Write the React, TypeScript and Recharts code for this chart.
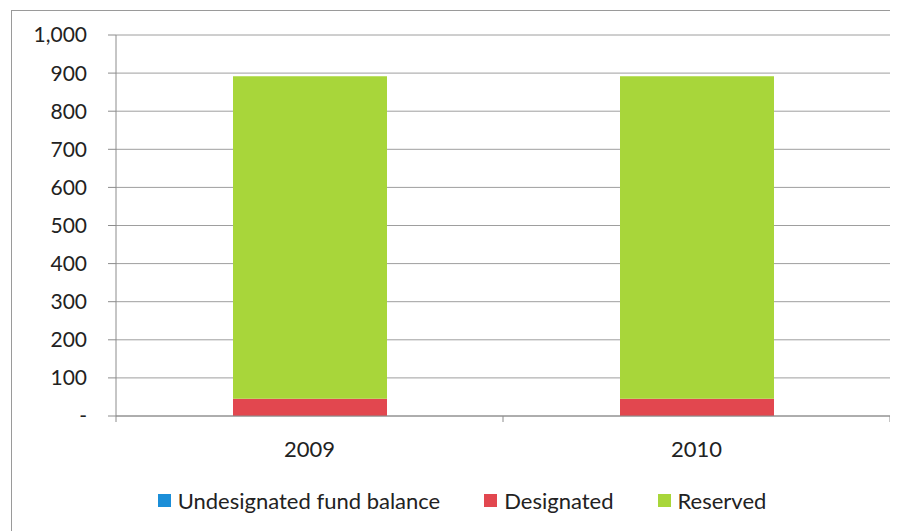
import React from 'react';
import { BarChart, Bar, XAxis, YAxis, CartesianGrid, Legend } from 'recharts';

const years = ['2009', '2010'];
const undesignated = [0, 0];
const designated = [45, 45];
const reserved = [847, 847];
const yTicks = [0, 100, 200, 300, 400, 500, 600, 700, 800, 900, 1000];

const seriesKeys = ['undesignated', 'designated', 'reserved'];
const seriesNames = ['Undesignated fund balance', 'Designated', 'Reserved'];
const seriesColors = ['#1b8ed8', '#e2474f', '#a8d63a'];

const data = years.map((year, i) => ({
  year,
  undesignated: undesignated[i],
  designated: designated[i],
  reserved: reserved[i],
}));

const FONT = 'Lato, "Open Sans", sans-serif';
const CHART_W = 890;
const CHART_H = 523;
const MARGIN = { top: 27, right: 8, left: 0, bottom: 15 };
const Y_WIDTH = 108;
const BAND = (CHART_W - MARGIN.right - Y_WIDTH) / years.length;

const formatY = (v: number) => (v === 0 ? '-' : v.toLocaleString('en-US'));

// category label at the band centre, tick marks on the band edges (Excel style)
const XTick = (props: any) => {
  const { x, y, payload, index } = props;
  const half = BAND / 2;
  return (
    <g>
      <line x1={x - half} x2={x - half} y1={y} y2={y + 6} stroke="#8c8c8c" />
      {index === years.length - 1 && (
        <line x1={x + half} x2={x + half} y1={y} y2={y + 6} stroke="#8c8c8c" />
      )}
      <text x={x} y={y + 41} textAnchor="middle" fill="#222" fontSize={22} fontFamily={FONT}>
        {payload.value}
      </text>
    </g>
  );
};

const LegendContent = () => (
  <div
    style={{
      display: 'flex',
      justifyContent: 'center',
      alignItems: 'center',
      paddingLeft: 26,
      paddingTop: 11,
      fontFamily: FONT,
      fontSize: 22,
      color: '#222',
    }}
  >
    {seriesNames.map((name, i) => (
      <div key={name} style={{ display: 'flex', alignItems: 'center', marginRight: i < seriesNames.length - 1 ? 44 : 0 }}>
        <span style={{ width: 13, height: 13, background: seriesColors[i], marginRight: 7, display: 'inline-block' }} />
        <span>{name}</span>
      </div>
    ))}
  </div>
);

export default function App() {
  return (
    <div style={{ position: 'relative', width: CHART_W, height: CHART_H, overflow: 'hidden', background: '#fff' }}>
      <div
        style={{
          position: 'absolute',
          left: 3,
          top: 2,
          width: 920,
          height: 560,
          border: '1px solid #9a9a9a',
        }}
      />
      <BarChart
        width={CHART_W}
        height={CHART_H}
        data={data}
        margin={MARGIN}
        barCategoryGap="20%"
        style={{ position: 'absolute', left: 0, top: 0 }}
      >
        <CartesianGrid vertical={false} stroke="#9e9e9e" />
        <XAxis
          dataKey="year"
          height={60}
          axisLine={{ stroke: '#8c8c8c' }}
          tickLine={false}
          tickSize={0}
          tickMargin={0}
          tick={<XTick />}
          interval={0}
        />
        <YAxis
          width={Y_WIDTH}
          domain={[0, 1000]}
          ticks={yTicks}
          tickFormatter={formatY}
          axisLine={{ stroke: '#8c8c8c' }}
          tickLine={{ stroke: '#8c8c8c' }}
          tickSize={8}
          tickMargin={21}
          tick={{ fill: '#222', fontSize: 21, fontFamily: FONT }}
        />
        <Legend verticalAlign="bottom" height={40} content={<LegendContent />} />
        {seriesKeys.map((key, i) => (
          <Bar
            key={key}
            dataKey={key}
            name={seriesNames[i]}
            stackId="a"
            fill={seriesColors[i]}
            barSize={154}
            isAnimationActive={false}
          />
        ))}
      </BarChart>
    </div>
  );
}
